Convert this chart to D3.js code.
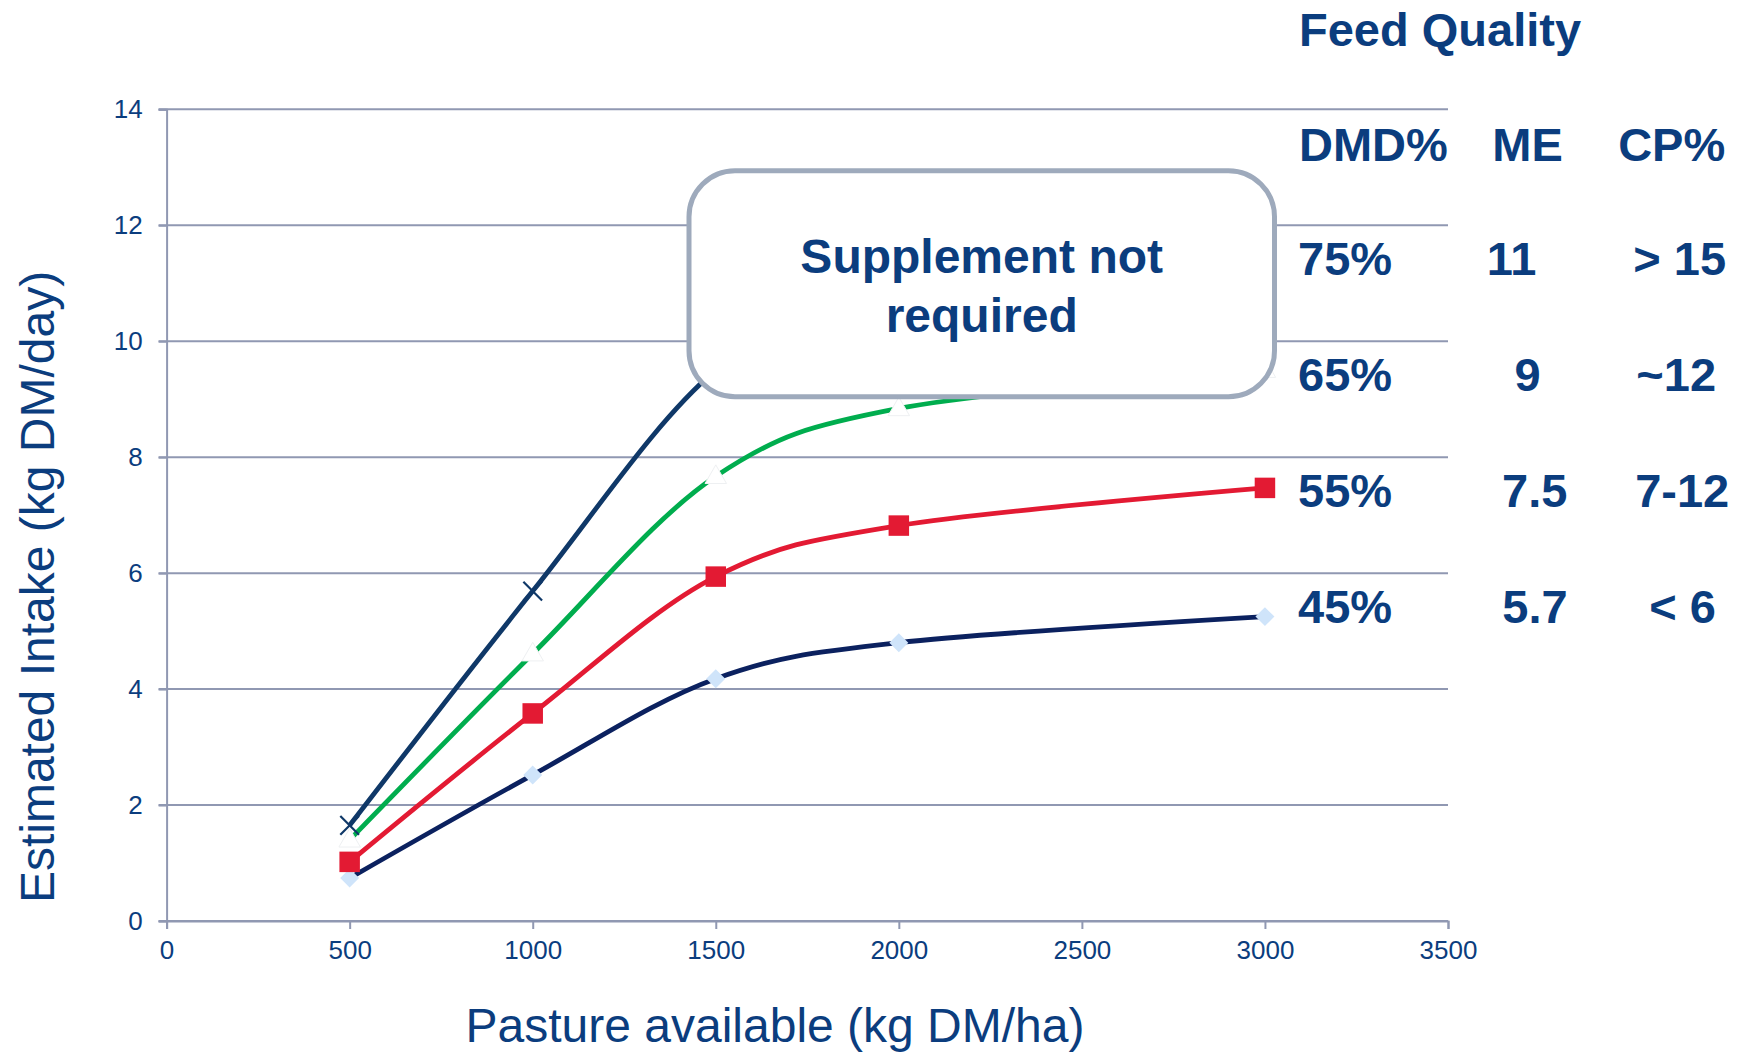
<!DOCTYPE html>
<html>
<head>
<meta charset="utf-8">
<script src="https://cdn.jsdelivr.net/npm/d3@7"></script>
<style>
  html, body { margin: 0; padding: 0; background: #ffffff; }
  svg { display: block; font-family: "Liberation Sans", Arial, sans-serif; }
</style>
</head>
<body>
<svg id="chart" width="1737" height="1054"></svg>
<script>
// Pasture available (kg DM/ha) and estimated intake (kg DM/day) per feed quality
const pasture = [500, 1000, 1500, 2000, 3000];
const intake45 = [0.74, 2.52, 4.18, 4.80, 5.25];
const intake55 = [1.02, 3.58, 5.94, 6.82, 7.47];
const intake65 = [1.40, 4.61, 7.67, 8.84, 9.50];
const intake75 = [1.65, 5.69, 9.50, 11.0, 12.0];

const xTicks = [0, 500, 1000, 1500, 2000, 2500, 3000, 3500];
const yTicks = [0, 2, 4, 6, 8, 10, 12, 14];

// Feed quality table
const tableTitle = "Feed Quality";
const tableHeader = ["DMD%", "ME", "CP%"];
const dmdValues = ["75%", "65%", "55%", "45%"];
const meValues = ["11", "9", "7.5", "5.7"];
const cpValues = ["> 15", "~12", "7-12", "< 6"];

const xTitle = "Pasture available (kg DM/ha)";
const yTitle = "Estimated Intake (kg DM/day)";
const boxText = ["Supplement not", "required"];

const textBlue = "#0b3d7e";
const gridColor = "#9098b2";

const svg = d3.select("#chart");

const plot = { left: 166.6, right: 1448, top: 109.3, bottom: 921 };
const x = d3.scaleLinear().domain([0, 3500]).range([plot.left, plot.right]);
const y = d3.scaleLinear().domain([0, 14]).range([plot.bottom, plot.top]);

// Horizontal gridlines
svg.append("g")
  .selectAll("line")
  .data(yTicks)
  .join("line")
  .attr("x1", plot.left - 8)
  .attr("x2", plot.right)
  .attr("y1", d => y(d))
  .attr("y2", d => y(d))
  .attr("stroke", gridColor)
  .attr("stroke-width", 2);

// Y axis
const yAxis = svg.append("g")
  .attr("transform", `translate(${plot.left},0)`)
  .call(d3.axisLeft(y).tickValues(yTicks).tickSize(8).tickPadding(16).tickFormat(d3.format("d")));
yAxis.select(".domain").attr("stroke", gridColor).attr("stroke-width", 2);
yAxis.selectAll(".tick line").attr("stroke", gridColor).attr("stroke-width", 2);
yAxis.selectAll(".tick text")
  .attr("fill", textBlue)
  .style("font-size", "26px")
  .style("font-family", "'Liberation Sans', Arial, sans-serif");

// X axis
const xAxis = svg.append("g")
  .attr("transform", `translate(0,${plot.bottom})`)
  .call(d3.axisBottom(x).tickValues(xTicks).tickSize(8).tickPadding(12).tickFormat(d3.format("d")));
xAxis.select(".domain").attr("stroke", gridColor).attr("stroke-width", 2);
xAxis.selectAll(".tick line").attr("stroke", gridColor).attr("stroke-width", 2);
xAxis.selectAll(".tick text")
  .attr("fill", textBlue)
  .style("font-size", "26px")
  .style("font-family", "'Liberation Sans', Arial, sans-serif");

// Axis titles
svg.append("text")
  .attr("x", 775)
  .attr("y", 1042)
  .attr("text-anchor", "middle")
  .attr("fill", textBlue)
  .style("font-size", "48px")
  .text(xTitle);

svg.append("text")
  .attr("transform", "translate(54,587) rotate(-90)")
  .attr("text-anchor", "middle")
  .attr("fill", textBlue)
  .style("font-size", "48px")
  .text(yTitle);

// Series
const series = [
  { name: "45%", values: intake45, color: "#0b215f", marker: "diamond" },
  { name: "55%", values: intake55, color: "#e31a33", marker: "square" },
  { name: "65%", values: intake65, color: "#00ad4e", marker: "triangle" },
  { name: "75%", values: intake75, color: "#0f3868", marker: "cross" }
];

const line = d3.line()
  .x((d, i) => x(pasture[i]))
  .y(d => y(d))
  .curve(d3.curveCardinal.tension(0));

const symbolFor = {
  diamond: d3.symbol().type(d3.symbolSquare).size(180),
  square: d3.symbol().type(d3.symbolSquare).size(420),
  triangle: d3.symbol().type(d3.symbolTriangle).size(200),
  cross: d3.symbol().type(d3.symbolX).size(230)
};

series.forEach(s => {
  const g = svg.append("g").attr("class", "series");
  g.append("path")
    .attr("d", line(s.values))
    .attr("fill", "none")
    .attr("stroke", s.color)
    .attr("stroke-width", 4.8)
    .attr("stroke-linejoin", "round");

  const pts = g.selectAll("path.marker")
    .data(s.values)
    .join("path")
    .attr("class", "marker")
    .attr("d", symbolFor[s.marker]());

  if (s.marker === "diamond") {
    pts.attr("transform", (d, i) => `translate(${x(pasture[i])},${y(d)}) rotate(45)`)
      .attr("fill", "#cfe4fa");
  } else if (s.marker === "square") {
    pts.attr("transform", (d, i) => `translate(${x(pasture[i])},${y(d)})`)
      .attr("fill", "#e31a33");
  } else if (s.marker === "triangle") {
    pts.attr("transform", (d, i) => `translate(${x(pasture[i])},${y(d) + 1})`)
      .attr("fill", "#ffffff")
      .attr("stroke", "#eef0f2")
      .attr("stroke-width", 1);
  } else {
    pts.attr("transform", (d, i) => `translate(${x(pasture[i])},${y(d)})`)
      .attr("fill", "none")
      .attr("stroke", s.color)
      .attr("stroke-width", 2.2);
  }
});

// Annotation box
const box = svg.append("g");
box.append("rect")
  .attr("x", 689)
  .attr("y", 170.8)
  .attr("width", 585.5)
  .attr("height", 226)
  .attr("rx", 46)
  .attr("ry", 46)
  .attr("fill", "#ffffff")
  .attr("stroke", "#9eaabc")
  .attr("stroke-width", 5);
box.selectAll("text")
  .data(boxText)
  .join("text")
  .attr("x", 981.7)
  .attr("y", (d, i) => 273.3 + i * 58.4)
  .attr("text-anchor", "middle")
  .attr("fill", textBlue)
  .style("font-size", "48px")
  .style("font-weight", "bold")
  .text(d => d);

// Feed quality table
const table = svg.append("g")
  .attr("fill", textBlue)
  .style("font-size", "47px")
  .style("font-weight", "bold");

table.append("text")
  .attr("x", 1299)
  .attr("y", 46.3)
  .text(tableTitle);

const headerX = [1299, 1527.5, 1671.7];
const headerAnchor = ["start", "middle", "middle"];
table.selectAll("text.header")
  .data(tableHeader)
  .join("text")
  .attr("class", "header")
  .attr("x", (d, i) => headerX[i])
  .attr("y", y(14) + 52)
  .attr("text-anchor", (d, i) => headerAnchor[i])
  .text(d => d);

const rowY = i => y(12 - 2 * i) + 49.5;
const meX = [1511.5, 1527.5, 1534.7, 1535];
const cpX = [1679.7, 1676.2, 1682.2, 1682.5];

table.selectAll("text.dmd")
  .data(dmdValues)
  .join("text")
  .attr("class", "dmd")
  .attr("x", 1298)
  .attr("y", (d, i) => rowY(i))
  .text(d => d);

table.selectAll("text.me")
  .data(meValues)
  .join("text")
  .attr("class", "me")
  .attr("x", (d, i) => meX[i])
  .attr("y", (d, i) => rowY(i))
  .attr("text-anchor", "middle")
  .text(d => d);

table.selectAll("text.cp")
  .data(cpValues)
  .join("text")
  .attr("class", "cp")
  .attr("x", (d, i) => cpX[i])
  .attr("y", (d, i) => rowY(i))
  .attr("text-anchor", "middle")
  .text(d => d);
</script>
</body>
</html>
